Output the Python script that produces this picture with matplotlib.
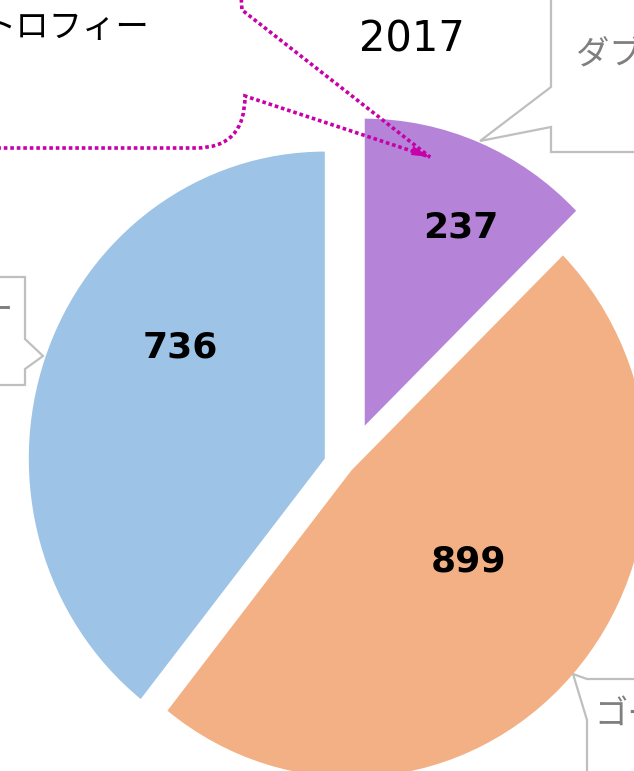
import matplotlib
matplotlib.use("Agg")
import matplotlib.pyplot as plt
from matplotlib.path import Path
from matplotlib.patches import PathPatch, Polygon

# data
values = [237, 899, 736]
value_labels = ["237", "899", "736"]
colors = ["#B584D9", "#F2B084", "#9DC3E6"]
explode = [0.146, 0.016, 0.083]
title = "2017"

W, H = 634, 771
fig = plt.figure(figsize=(W / 100, H / 100), dpi=100)

# pie centre / radii in pixels (the original is slightly taller than wide)
cx, cy, rx, ry = 348, 467, 296, 307
ax = fig.add_axes([0, 0, 1, 1])
wedges, _ = ax.pie(values, colors=colors, explode=explode,
                   startangle=90, counterclock=False, radius=1)
ax.set_aspect("auto")
ax.set_xlim(-cx / rx, (W - cx) / rx)
ax.set_ylim(-(H - cy) / ry, cy / ry)
ax.axis("off")

# overlay in pixel coords for text and callouts
ov = fig.add_axes([0, 0, 1, 1], facecolor="none")
ov.set_xlim(0, W)
ov.set_ylim(H, 0)
ov.axis("off")

jp = ["Noto Sans CJK JP", "DejaVu Sans"]

# value labels
label_pos = [(461, 237), (469, 572), (180, 358)]
for txt, (x, y) in zip(value_labels, label_pos):
    ov.text(x, y, txt, ha="center", va="baseline", fontsize=26,
            fontweight="bold", color="black")

ov.text(412, 52, title, ha="center", va="baseline", fontsize=30, color="black")

# magenta dotted callout (text cut at the left edge, as in the original)
mag = "#C800A8"
verts = [(241, -5), (242, 10), (430, 157), (245, 96),
         (245, 148), (196, 148), (-5, 148)]
codes = [Path.MOVETO, Path.LINETO, Path.LINETO, Path.LINETO,
         Path.CURVE3, Path.CURVE3, Path.LINETO]
ov.add_patch(PathPatch(Path(verts, codes), fill=False, edgecolor=mag,
                       lw=2.6, linestyle=(0, (1.0, 0.8))))
ov.add_patch(Polygon([(430, 157), (413, 146), (411, 155)], closed=True,
                     color=mag, lw=0))
ov.text(149, 37, "トロフィー", ha="right", va="baseline", fontsize=24,
        color="black", family=jp)

# gray callouts, partly outside the visible area
gray = "#BFBFBF"
tgray = "#7F7F7F"
ov.plot([551, 551, 480, 551, 551, 640], [-5, 87, 141, 127, 152, 152],
        color=gray, lw=1.6, solid_joinstyle="miter")
ov.text(576, 65, "ダブル", ha="left", va="baseline", fontsize=24,
        color=tgray, family=jp)

ov.plot([-5, 25, 25, 43, 25, 25, -5], [277, 277, 339, 356, 369, 385, 385],
        color=gray, lw=1.6, solid_joinstyle="miter")
ov.text(13, 320, "ー", ha="right", va="baseline", fontsize=24,
        color=tgray, family=jp)

ov.plot([640, 587, 573, 587, 587], [679, 679, 674, 720, 780],
        color=gray, lw=1.6, solid_joinstyle="miter")
ov.text(594, 724, "ゴール", ha="left", va="baseline", fontsize=24,
        color=tgray, family=jp)

fig.savefig("out.png", dpi=100)
